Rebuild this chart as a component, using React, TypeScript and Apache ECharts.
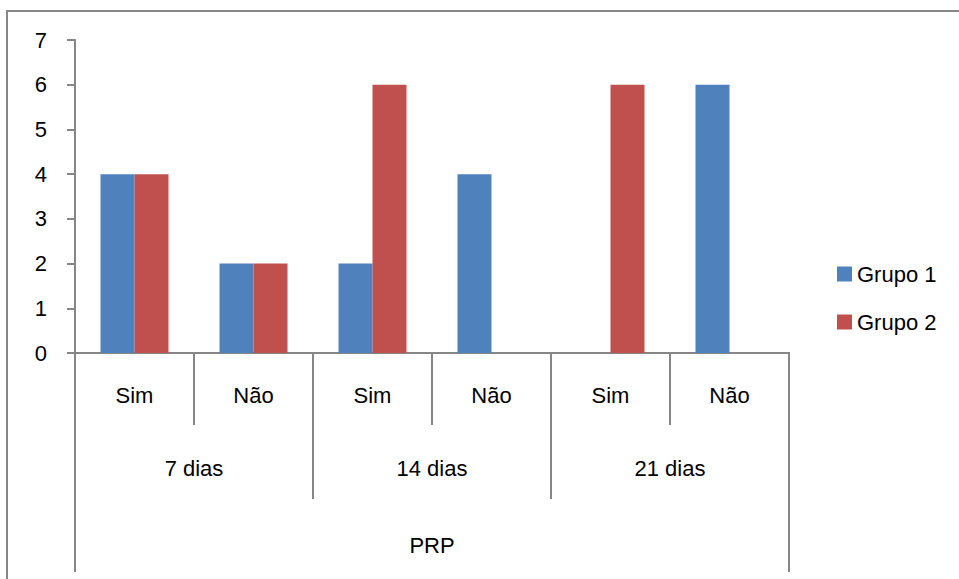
import React, { useEffect, useRef } from "react";
import * as echarts from "echarts";

const subCategories = ["Sim", "Não", "Sim", "Não", "Sim", "Não"];
const periodCategories = ["7 dias", "14 dias", "21 dias"];
const topCategories = ["PRP"];
const grupo1 = [4, 2, 2, 4, 0, 6];
const grupo2 = [4, 2, 6, 0, 6, 0];
const yTicks = [0, 7, 1];

const FONT = "Liberation Sans";
const GREY = "#868686";

export default function App() {
  const ref = useRef<HTMLDivElement>(null);
  useEffect(() => {
    if (!ref.current) return;
    const chart = echarts.init(ref.current, undefined, { renderer: "svg" });
    const baseX = {
      type: "category" as const,
      position: "bottom" as const,
      axisLine: { show: true, lineStyle: { color: GREY, width: 2 } },
      splitLine: { show: false },
    };
    chart.setOption({
      animation: false,
      backgroundColor: "#ffffff",
      textStyle: { fontFamily: FONT },
      graphic: [
        {
          type: "rect",
          shape: { x: 7, y: 11, width: 1000, height: 1000 },
          style: { fill: "none", stroke: GREY, lineWidth: 2 },
          silent: true,
        },
      ],
      grid: { left: 75, right: 170, top: 40, bottom: 226, containLabel: false },
      legend: {
        orient: "vertical",
        left: 832,
        top: 258,
        itemWidth: 15,
        itemHeight: 15,
        itemGap: 26,
        icon: "rect",
        textStyle: { fontFamily: FONT, fontSize: 22, color: "#000" },
        data: ["Grupo 1", "Grupo 2"],
      },
      xAxis: [
        {
          ...baseX,
          data: subCategories,
          axisTick: { show: true, length: 72, lineStyle: { color: GREY, width: 2 } },
          axisLabel: { fontFamily: FONT, fontSize: 22, color: "#000", margin: 31, interval: 0 },
        },
        {
          ...baseX,
          data: periodCategories,
          axisTick: { show: true, length: 146, lineStyle: { color: GREY, width: 2 } },
          axisLabel: { fontFamily: FONT, fontSize: 22, color: "#000", margin: 104, interval: 0 },
        },
        {
          ...baseX,
          data: topCategories,
          axisTick: { show: true, length: 219, lineStyle: { color: GREY, width: 2 } },
          axisLabel: { fontFamily: FONT, fontSize: 22, color: "#000", margin: 181, interval: 0 },
        },
      ],
      yAxis: {
        type: "value",
        min: yTicks[0],
        max: yTicks[1],
        interval: yTicks[2],
        axisLine: { show: true, lineStyle: { color: GREY, width: 2 } },
        axisTick: { show: true, length: 8, lineStyle: { color: GREY, width: 2 } },
        splitLine: { show: false },
        axisLabel: { fontFamily: FONT, fontSize: 22, color: "#000", margin: 28 },
      },
      series: [
        {
          name: "Grupo 1",
          type: "bar",
          xAxisIndex: 0,
          data: grupo1,
          barWidth: 34,
          barGap: "0%",
          itemStyle: { color: "#4F81BD" },
        },
        {
          name: "Grupo 2",
          type: "bar",
          xAxisIndex: 0,
          data: grupo2,
          barWidth: 34,
          barGap: "0%",
          itemStyle: { color: "#C0504D" },
        },
      ],
    });
    return () => chart.dispose();
  }, []);
  return (
    <div
      ref={ref}
      style={{ position: "absolute", left: 0, top: 0, width: 959, height: 579 }}
    />
  );
}
